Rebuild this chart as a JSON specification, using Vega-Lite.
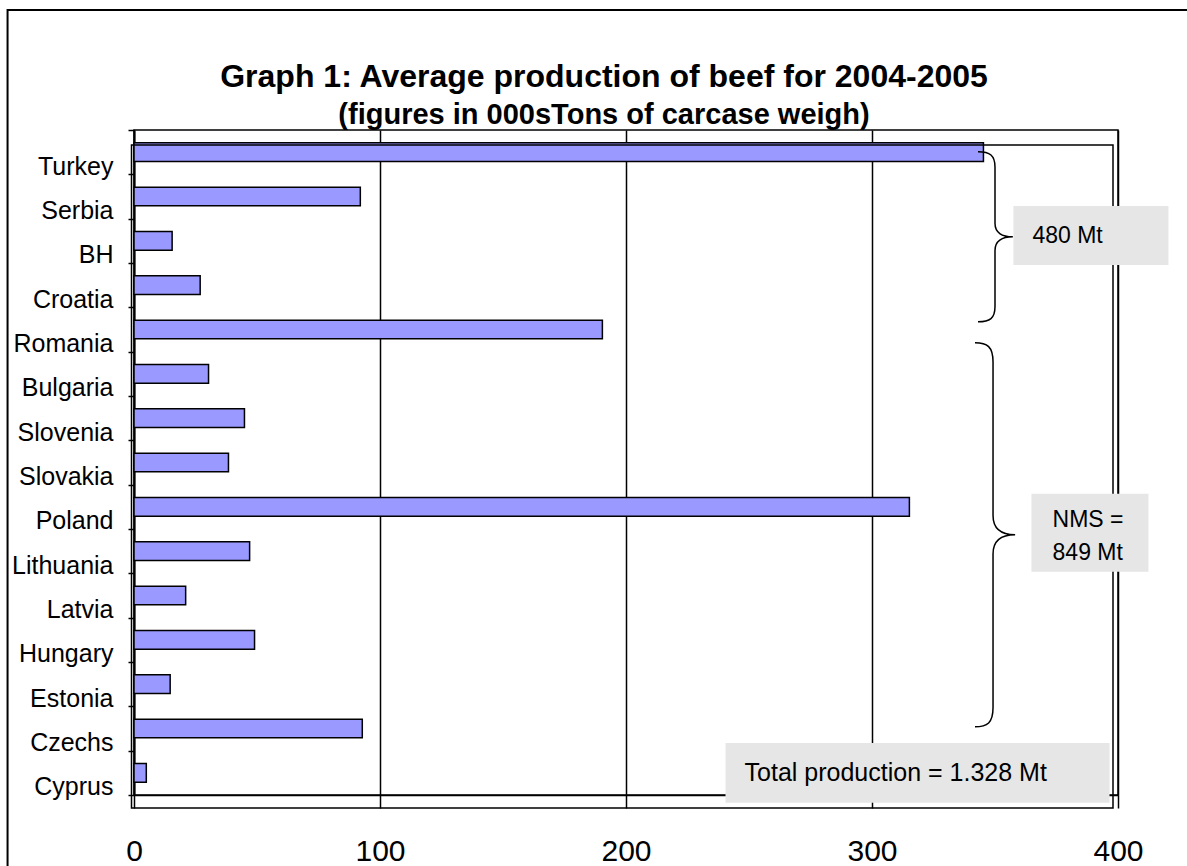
{
  "$schema": "https://vega.github.io/schema/vega-lite/v6.json",
  "width": 984,
  "height": 665,
  "autosize": {"type": "none"},
  "padding": {"left": 134, "top": 130, "right": 69, "bottom": 71},
  "background": "white",
  "config": {
    "view": {"stroke": "black", "strokeWidth": 1.5},
    "font": "Liberation Sans"
  },
  "title": {
    "text": "Graph 1: Average production of beef for 2004-2005",
    "subtitle": "(figures in 000sTons of carcase weigh)",
    "font": "Liberation Sans",
    "subtitleFont": "Liberation Sans",
    "fontSize": 32,
    "subtitleFontSize": 29,
    "fontWeight": "bold",
    "subtitleFontWeight": "bold",
    "color": "black",
    "subtitleColor": "black",
    "anchor": "middle",
    "dx": -22,
    "offset": -122,
    "subtitlePadding": 7
  },
  "data": {
    "values": [
      {"country": "Turkey", "production": 345.3},
      {"country": "Serbia", "production": 92.0},
      {"country": "BH", "production": 15.5},
      {"country": "Croatia", "production": 26.9},
      {"country": "Romania", "production": 190.4},
      {"country": "Bulgaria", "production": 30.3},
      {"country": "Slovenia", "production": 44.9},
      {"country": "Slovakia", "production": 38.4},
      {"country": "Poland", "production": 315.2},
      {"country": "Lithuania", "production": 47.0},
      {"country": "Latvia", "production": 21.0},
      {"country": "Hungary", "production": 49.0},
      {"country": "Estonia", "production": 14.7},
      {"country": "Czechs", "production": 92.8},
      {"country": "Cyprus", "production": 5.0}
    ]
  },
  "layer": [
    {
      "mark": {"type": "bar", "fill": "#9999ff", "stroke": "black", "strokeWidth": 1.5, "height": {"band": 0.42}},
      "encoding": {
        "y": {
          "field": "country",
          "type": "nominal",
          "sort": null,
          "scale": {
            "domain": ["Turkey", "Serbia", "BH", "Croatia", "Romania", "Bulgaria", "Slovenia", "Slovakia", "Poland", "Lithuania", "Latvia", "Hungary", "Estonia", "Czechs", "Cyprus"],
            "paddingInner": 0,
            "paddingOuter": 0
          },
          "axis": {
            "title": null,
            "domain": true,
            "domainColor": "black",
            "domainWidth": 2,
            "ticks": true,
            "tickBand": "extent",
            "tickSize": 6,
            "tickColor": "black",
            "tickWidth": 1.5,
            "labelFont": "Liberation Sans",
            "labelFontSize": 25,
            "labelColor": "black",
            "labelPadding": 15,
            "labelOffset": 14,
            "labelBaseline": "middle",
            "grid": false
          }
        },
        "x": {
          "field": "production",
          "type": "quantitative",
          "scale": {"domain": [0, 400], "nice": false},
          "axis": {
            "title": null,
            "values": [0, 100, 200, 300, 400],
            "format": "d",
            "grid": true,
            "gridColor": "black",
            "gridWidth": 1.5,
            "gridOpacity": 1,
            "domain": true,
            "domainColor": "black",
            "domainWidth": 1.5,
            "ticks": true,
            "tickSize": 13,
            "tickColor": "black",
            "tickWidth": 1.5,
            "labelFont": "Liberation Sans",
            "labelFontSize": 30,
            "labelColor": "black",
            "labelPadding": 28,
            "labelFlush": false,
            "labelBaseline": "top"
          }
        }
      }
    },
    {
      "data": {"values": [{}]},
      "mark": {"type": "rect", "filled": false, "stroke": "black", "strokeWidth": 1.5, "xOffset": -2.5, "x2Offset": -5, "yOffset": 15, "y2Offset": 13},
      "encoding": {
        "x": {"datum": 0, "type": "quantitative"},
        "x2": {"datum": 400},
        "y": {"datum": "Turkey", "type": "nominal", "bandPosition": 0},
        "y2": {"datum": "Cyprus", "bandPosition": 1}
      }
    },
    {
      "data": {"values": [{}]},
      "mark": {"type": "rect", "filled": false, "stroke": "black", "strokeWidth": 2, "yOffset": -120, "y2Offset": 100},
      "encoding": {
        "x": {"datum": -51.4, "type": "quantitative"},
        "x2": {"datum": 480},
        "y": {"datum": "Turkey", "type": "nominal", "bandPosition": 0},
        "y2": {"datum": "Cyprus", "bandPosition": 1}
      }
    },
    {
      "data": {"values": [{}]},
      "mark": {"type": "point", "filled": false, "stroke": "black", "strokeWidth": 1.5, "opacity": 1, "size": 28900,
        "shape": "M-0.2,-1C-0.06,-1 0,-0.96 0,-0.82L0,-0.16C0,-0.05 0.08,0 0.21,0C0.08,0 0,0.05 0,0.16L0,0.82C0,0.96 -0.06,1 -0.2,1"},
      "encoding": {
        "x": {"datum": 350, "type": "quantitative"},
        "y": {"datum": "BH", "type": "nominal", "bandPosition": 0.41}
      }
    },
    {
      "data": {"values": [{}]},
      "mark": {"type": "point", "filled": false, "stroke": "black", "strokeWidth": 1.5, "opacity": 1, "size": 147456,
        "shape": "M-0.094,-1C-0.03,-1 0,-0.98 0,-0.9L0,-0.1C0,-0.03 0.04,0 0.115,0C0.04,0 0,0.03 0,0.1L0,0.9C0,0.98 -0.03,1 -0.094,1"},
      "encoding": {
        "x": {"datum": 349.2, "type": "quantitative"},
        "y": {"datum": "Lithuania", "type": "nominal", "bandPosition": 0.13}
      }
    },
    {
      "data": {"values": [{}]},
      "mark": {"type": "point", "filled": true, "fill": "#e6e6e6", "strokeWidth": 0, "opacity": 1, "size": 24025,
        "shape": "M-1,-0.381L1,-0.381L1,0.381L-1,0.381Z"},
      "encoding": {
        "x": {"datum": 389.0, "type": "quantitative"},
        "y": {"datum": "BH", "type": "nominal", "bandPosition": 0.38}
      }
    },
    {
      "data": {"values": [{}]},
      "mark": {"type": "point", "filled": true, "fill": "#e6e6e6", "strokeWidth": 0, "opacity": 1, "size": 13689,
        "shape": "M-1,-0.667L1,-0.667L1,0.667L-1,0.667Z"},
      "encoding": {
        "x": {"datum": 388.6, "type": "quantitative"},
        "y": {"datum": "Lithuania", "type": "nominal", "bandPosition": 0.083}
      }
    },
    {
      "data": {"values": [{}]},
      "mark": {"type": "point", "filled": true, "fill": "#e6e6e6", "strokeWidth": 0, "opacity": 1, "size": 147456,
        "shape": "M-1,-0.156L1,-0.156L1,0.156L-1,0.156Z"},
      "encoding": {
        "x": {"datum": 318.5, "type": "quantitative"},
        "y": {"datum": "Cyprus", "type": "nominal", "bandPosition": 0.5}
      }
    },
    {
      "data": {"values": [{}]},
      "mark": {"type": "text", "text": "480 Mt", "align": "left", "baseline": "middle", "font": "Liberation Sans", "fontSize": 23, "color": "black"},
      "encoding": {
        "x": {"datum": 365.2, "type": "quantitative"},
        "y": {"datum": "BH", "type": "nominal", "bandPosition": 0.38}
      }
    },
    {
      "data": {"values": [{}]},
      "mark": {"type": "text", "text": ["NMS =", "849 Mt"], "align": "left", "baseline": "middle", "lineHeight": 33, "font": "Liberation Sans", "fontSize": 23, "color": "black"},
      "encoding": {
        "x": {"datum": 373.4, "type": "quantitative"},
        "y": {"datum": "Poland", "type": "nominal", "bandPosition": 0.79}
      }
    },
    {
      "data": {"values": [{}]},
      "mark": {"type": "text", "text": "Total production = 1.328 Mt", "align": "left", "baseline": "middle", "font": "Liberation Sans", "fontSize": 25, "color": "black"},
      "encoding": {
        "x": {"datum": 248.2, "type": "quantitative"},
        "y": {"datum": "Cyprus", "type": "nominal", "bandPosition": 0.5}
      }
    }
  ]
}
